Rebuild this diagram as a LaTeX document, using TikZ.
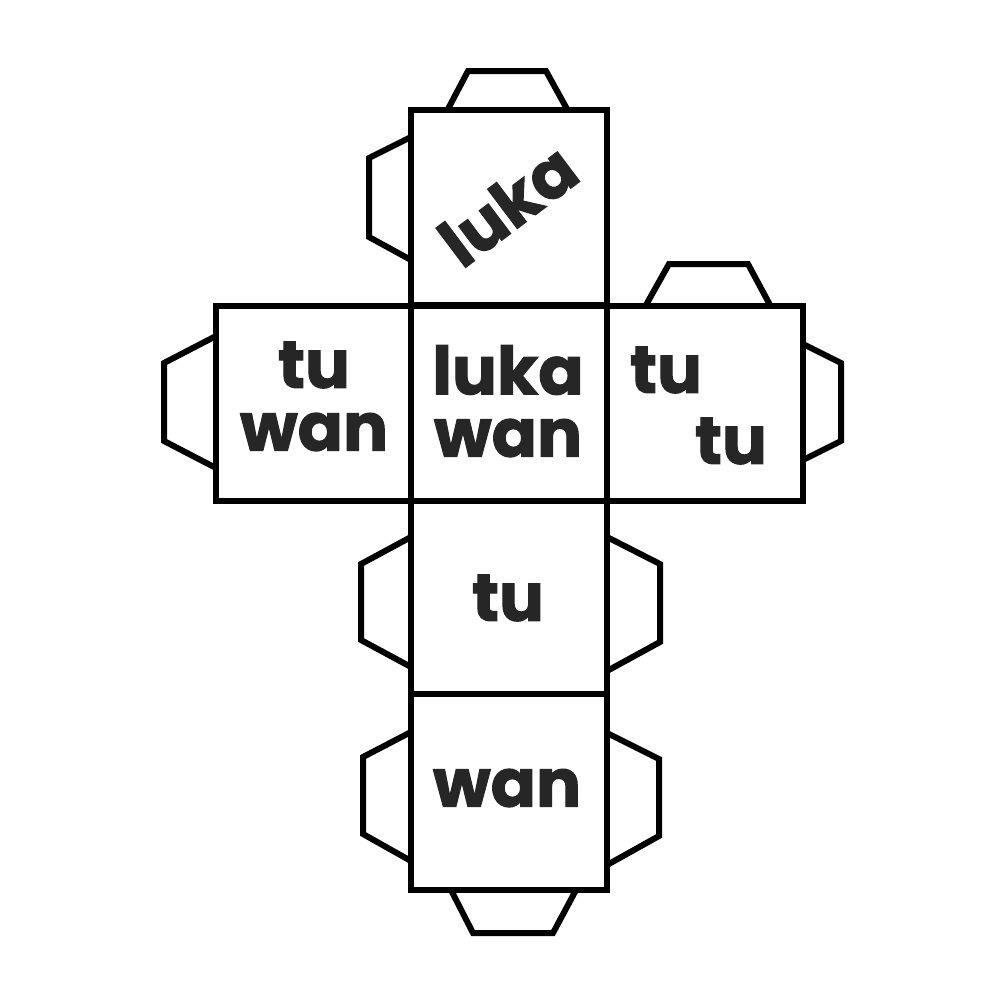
\documentclass[tikz,border=0pt]{standalone}
\usepackage{fontspec}
\setmainfont{Poppins}[BoldFeatures={FakeBold=1.5}]
\tikzset{
  face/.style={draw, line width=0.65mm},
  flap/.style={draw, line width=0.6mm, line join=miter},
  word/.style={font=\fontsize{19}{19}\selectfont\bfseries, inner sep=0pt, text=black!85, transform shape},
}
\begin{document}
\begin{tikzpicture}[x=0.1mm, y=-0.1mm]
\useasboundingbox (0,0) rectangle (1000,1000);
\fill[white] (0,0) rectangle (1000,1000);
% flaps
\draw[flap] (448,109) -- (468,71) -- (546,71) -- (567,109);
\draw[flap] (411,137) -- (369,158) -- (369,237) -- (411,260);
\draw[flap] (646,305) -- (669,264) -- (748,264) -- (770,305);
\draw[flap] (216,336) -- (164,363) -- (164,441) -- (216,468);
\draw[flap] (803,344) -- (841,363) -- (841,441) -- (803,460);
\draw[flap] (411,537) -- (361,564) -- (361,640) -- (411,667);
\draw[flap] (607,537) -- (660,564) -- (660,642) -- (607,671);
\draw[flap] (411,732) -- (363,757) -- (363,834) -- (411,861);
\draw[flap] (607,733) -- (659,759) -- (659,836) -- (607,865);
\draw[flap] (451,890) -- (473,933) -- (553,933) -- (576,890);
% faces
\draw[face] (411,110) rectangle (607,305);
\draw[face] (216,306) rectangle (411,501);
\draw[face] (411,306) rectangle (607,501);
\draw[face] (607,306) rectangle (803,501);
\draw[face] (411,501) rectangle (607,694);
\draw[face] (411,694) rectangle (607,890);
% words
\node[word, rotate=37] (top) at (508,205) {luka};
\node[word] (leftA) at (314,365) {tu};
\node[word] (leftB) at (314,432) {wan};
\node[word] (midA) at (508,370) {luka};
\node[word] (midB) at (508,438) {wan};
\node[word] (rightA) at (666,370) {tu};
\node[word] (rightB) at (731,441) {tu};
\node[word] (lowA) at (508,598) {tu};
\node[word] (lowB) at (507,788) {wan};
\end{tikzpicture}
\end{document}
